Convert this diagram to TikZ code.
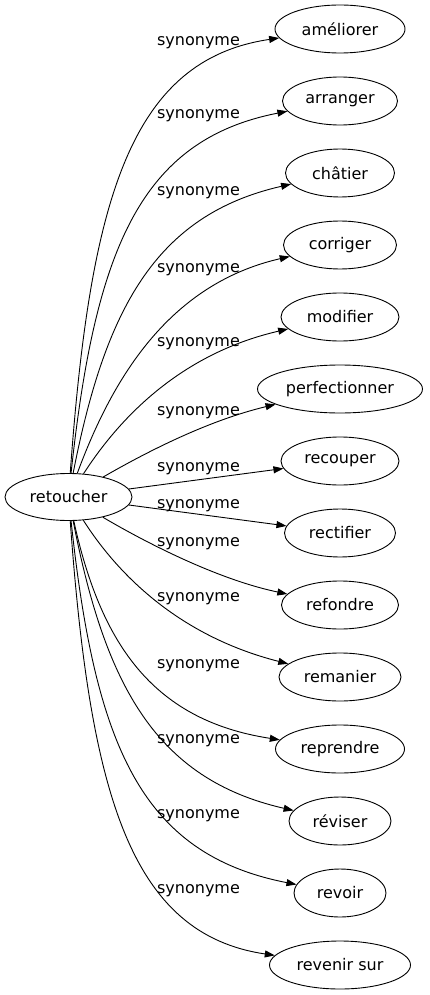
\documentclass[tikz,border=0pt]{standalone}
\usepackage{fontspec}
\setmainfont{DejaVu Sans}
\usetikzlibrary{arrows.meta,shapes.geometric}
\begin{document}
\begin{tikzpicture}[x=1pt,y=-1pt,
  word/.style={draw,ellipse,inner sep=0pt,minimum height=48pt,line width=0.9pt,font=\fontsize{16}{19}\selectfont},
  lab/.style={font=\fontsize{16}{19}\selectfont,inner sep=0pt,anchor=base},
  syn/.style={line width=0.9pt,-{Triangle[length=10pt,width=7pt]}}]
\useasboundingbox (0,0) rectangle (429,995);
\node[word,minimum width=127pt,minimum height=47pt] (ret) at (68.5,497) {retoucher};
\node[word,minimum width=130pt] (t0) at (340,29) {améliorer};
\node[word,minimum width=115pt] (t1) at (340,101) {arranger};
\node[word,minimum width=109pt] (t2) at (340,173) {châtier};
\node[word,minimum width=113pt] (t3) at (340,245) {corriger};
\node[word,minimum width=118pt] (t4) at (340,317) {modifier};
\node[word,minimum width=165pt] (t5) at (340,389) {perfectionner};
\node[word,minimum width=118pt] (t6) at (340,461) {recouper};
\node[word,minimum width=111pt] (t7) at (340,533) {rectifier};
\node[word,minimum width=117pt] (t8) at (340,605) {refondre};
\node[word,minimum width=122pt] (t9) at (340,677) {remanier};
\node[word,minimum width=129pt] (t10) at (340,749) {reprendre};
\node[word,minimum width=102pt] (t11) at (340,821) {réviser};
\node[word,minimum width=92pt] (t12) at (340,893) {revoir};
\node[word,minimum width=141pt] (t13) at (340,965) {revenir sur};
\node[lab] (l0) at (198.5,46) {synonyme};
\node[lab] (l1) at (198.5,119) {synonyme};
\node[lab] (l2) at (198.5,195) {synonyme};
\node[lab] (l3) at (198.5,272) {synonyme};
\node[lab] (l4) at (198.5,346) {synonyme};
\node[lab] (l5) at (198.5,415) {synonyme};
\node[lab] (l6) at (198.5,471) {synonyme};
\node[lab] (l7) at (198.5,508) {synonyme};
\node[lab] (l8) at (198.5,546) {synonyme};
\node[lab] (l9) at (198.5,601) {synonyme};
\node[lab] (l10) at (198.5,668) {synonyme};
\node[lab] (l11) at (198.5,743) {synonyme};
\node[lab] (l12) at (198.5,818) {synonyme};
\node[lab] (l13) at (198.5,893) {synonyme};
\draw[syn] (ret) .. controls (90,200) and (130,60) .. (t0);
\draw[syn] (ret) .. controls (95,250) and (140,140) .. (t1);
\draw[syn] (ret) .. controls (105,310) and (155,215) .. (t2);
\draw[syn] (ret) .. controls (110,385) and (165,285) .. (t3);
\draw[syn] (ret) .. controls (115,425) and (175,355) .. (t4);
\draw[syn] (ret) .. controls (150,450) and (210,420) .. (t5);
\draw[syn] (ret) -- (t6);
\draw[syn] (ret) -- (t7);
\draw[syn] (ret) .. controls (150,545) and (220,580) .. (t8);
\draw[syn] (ret) .. controls (115,570) and (175,635) .. (t9);
\draw[syn] (ret) .. controls (100,640) and (150,720) .. (t10);
\draw[syn] (ret) .. controls (105,684) and (155,779) .. (t11);
\draw[syn] (ret) .. controls (95,744) and (140,854) .. (t12);
\draw[syn] (ret) .. controls (90,794) and (130,934) .. (t13);
\end{tikzpicture}
\end{document}
